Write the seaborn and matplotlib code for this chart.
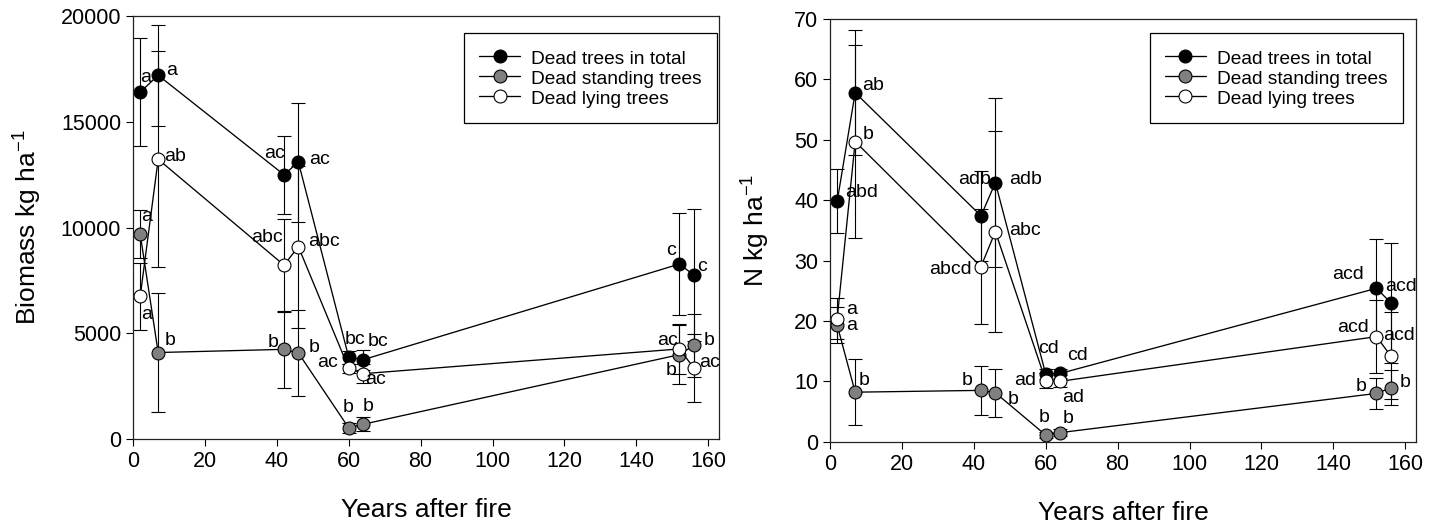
import matplotlib
matplotlib.use("Agg")
import matplotlib.pyplot as plt
import pandas as pd
import seaborn as sns

# ---------------- data ----------------
years = [2, 7, 42, 46, 60, 64, 152, 156]
series_names = ["Dead trees in total", "Dead standing trees", "Dead lying trees"]

biomass_total = [16400, 17200, 12500, 13100, 3880, 3760, 8280, 7760]
biomass_total_err = [2540, 2390, 1840, 2810, 300, 470, 2430, 3100]
biomass_standing = [9700, 4100, 4250, 4080, 540, 710, 4000, 4440]
biomass_standing_err = [1120, 2790, 1810, 2020, 250, 330, 1390, 1500]
biomass_lying = [6750, 13230, 8230, 9100, 3355, 3100, 4270, 3370]
biomass_lying_err = [1590, 5100, 2200, 3830, 200, 440, 1180, 1590]

biomass_total_letters = ["a", "a", "ac", "ac", "bc", "bc", "c", "c"]
biomass_standing_letters = ["a", "b", "b", "b", "b", "b", "b", "b"]
biomass_lying_letters = ["a", "ab", "abc", "abc", "ac", "ac", "ac", "ac"]

n_total = [39.8, 57.8, 37.4, 42.9, 11.2, 11.3, 25.4, 23.0]
n_total_err = [5.3, 10.3, 7.5, 14.0, 0.8, 0.8, 8.1, 9.9]
n_standing = [19.3, 8.2, 8.5, 8.1, 1.1, 1.5, 8.0, 8.9]
n_standing_err = [3.0, 5.5, 4.0, 4.0, 0.5, 0.6, 2.6, 2.9]
n_lying = [20.4, 49.7, 29.0, 34.8, 10.1, 10.0, 17.4, 14.2]
n_lying_err = [3.4, 16.0, 9.5, 16.6, 1.2, 1.0, 6.0, 7.2]

n_total_letters = ["abd", "ab", "adb", "adb", "cd", "cd", "acd", "acd"]
n_standing_letters = ["a", "b", "b", "b", "b", "b", "b", "b"]
n_lying_letters = ["a", "b", "abcd", "abc", "ad", "ad", "acd", "acd"]

x_ticks = [0, 20, 40, 60, 80, 100, 120, 140, 160]
biomass_ticks = [0, 5000, 10000, 15000, 20000]
n_ticks = [0, 10, 20, 30, 40, 50, 60, 70]

# ---------------- layout (label offsets in pixels: right, up) ----------------
left_offsets = [
    [(5, 15), (13.5, 5), (-9, 21), (21, 3), (6, 18), (15, 18), (-8.5, 14), (8, 8.5)],
    [(6.5, 17), (12, 12.5), (-11, 7), (16, 5), (-1, 20), (5, 18), (-8.5, -16), (15, 5)],
    [(6.5, -17.6), (17, 3), (-17, 28), (26, 5), (-21, 5.6), (12, -6), (-12, 8), (16, 5)],
]
right_offsets = [
    [(24.5, 8.6), (18, 7.6), (-6, 36.5), (30, 3), (3, 26), (17, 17.5), (-28, 14), (10, 16)],
    [(14.5, 0), (9, 12), (-14, 10), (18, -7), (-1.6, 18), (8, 14.6), (-15.6, 7), (14, 5)],
    [(14.5, 9), (13, 6.6), (-31, -3), (30, 1.5), (-20.6, 0), (13, -16), (-23, 9), (8, 20)],
]
fills = ["#000000", "#808080", "#ffffff"]

sns.set_style("ticks")
plt.rcParams["font.family"] = ["Liberation Sans", "DejaVu Sans"]
plt.rcParams["mathtext.fontset"] = "custom"
plt.rcParams["mathtext.rm"] = "Liberation Sans"
plt.rcParams["mathtext.it"] = "Liberation Sans"
plt.rcParams["mathtext.bf"] = "Liberation Sans"
for key in ["text.color", "axes.labelcolor", "xtick.color", "ytick.color", "axes.edgecolor"]:
    plt.rcParams[key] = "black"

fig = plt.figure(figsize=(14.37, 5.25), dpi=100)
W, H = 1437, 525
ax1 = fig.add_axes([133 / W, (H - 439.3) / H, 586 / W, 423.3 / H])
ax2 = fig.add_axes([830 / W, (H - 441.7) / H, 586 / W, 422.7 / H])


def draw(ax, vals, errs, letters, offsets):
    for name, v, e, lab, off, fc in zip(series_names, vals, errs, letters, offsets, fills):
        df = pd.DataFrame({"x": years, "y": v})
        ax.errorbar(years, v, yerr=e, fmt="none", ecolor="black", elinewidth=0.8,
                    capsize=5, capthick=0.8, zorder=1)
        sns.lineplot(data=df, x="x", y="y", ax=ax, sort=False, color="black",
                     linewidth=0.95, marker="o", markersize=9.3, markerfacecolor=fc,
                     markeredgecolor="black", markeredgewidth=0.8, label=name,
                     zorder=2, estimator=None)
        for xi, yi, t, (dx, dy) in zip(years, v, lab, off):
            ax.annotate(t, xy=(xi, yi), xytext=(dx, dy), textcoords="offset pixels",
                        ha="center", va="center", fontsize=14, color="black",
                        annotation_clip=False, zorder=3)


draw(ax1, [biomass_total, biomass_standing, biomass_lying],
     [biomass_total_err, biomass_standing_err, biomass_lying_err],
     [biomass_total_letters, biomass_standing_letters, biomass_lying_letters], left_offsets)
draw(ax2, [n_total, n_standing, n_lying],
     [n_total_err, n_standing_err, n_lying_err],
     [n_total_letters, n_standing_letters, n_lying_letters], right_offsets)

for ax, ylim, yt, ylab, lx, anchor in [
    (ax1, (0, 20000), biomass_ticks, r"Biomass kg ha$^{\mathregular{-1}}$", -0.179, (0.9966, 0.959)),
    (ax2, (0, 70), n_ticks, r"N kg ha$^{\mathregular{-1}}$", -0.126, (0.9773, 0.966)),
]:
    ax.set_xlim(0, 163)
    ax.set_ylim(*ylim)
    ax.set_xticks(x_ticks)
    ax.set_yticks(yt)
    ax.tick_params(direction="out", length=5, width=0.8, labelsize=15.5, pad=3.5,
                   colors="black")
    for sp in ax.spines.values():
        sp.set_visible(True)
        sp.set_linewidth(0.9)
        sp.set_color("#222222")
    ax.set_xlabel("Years after fire", fontsize=19, color="black")
    ax.xaxis.set_label_coords(0.5, -0.168)
    ax.xaxis.label.set_va("center")
    ax.set_ylabel(ylab, fontsize=19, color="black")
    ax.yaxis.set_label_coords(lx, 0.5)
    ax.yaxis.label.set_va("center")
    leg = ax.legend(loc="upper right", bbox_to_anchor=anchor, borderaxespad=0,
                    fontsize=13.8, frameon=True, fancybox=False, framealpha=1,
                    edgecolor="black", borderpad=0.78, labelspacing=0.0,
                    handlelength=2.15, handleheight=1.15, handletextpad=0.58)
    leg.get_frame().set_linewidth(0.9)
    for txt in leg.get_texts():
        txt.set_color("black")

fig.savefig("out.png", dpi=100, facecolor="white")
